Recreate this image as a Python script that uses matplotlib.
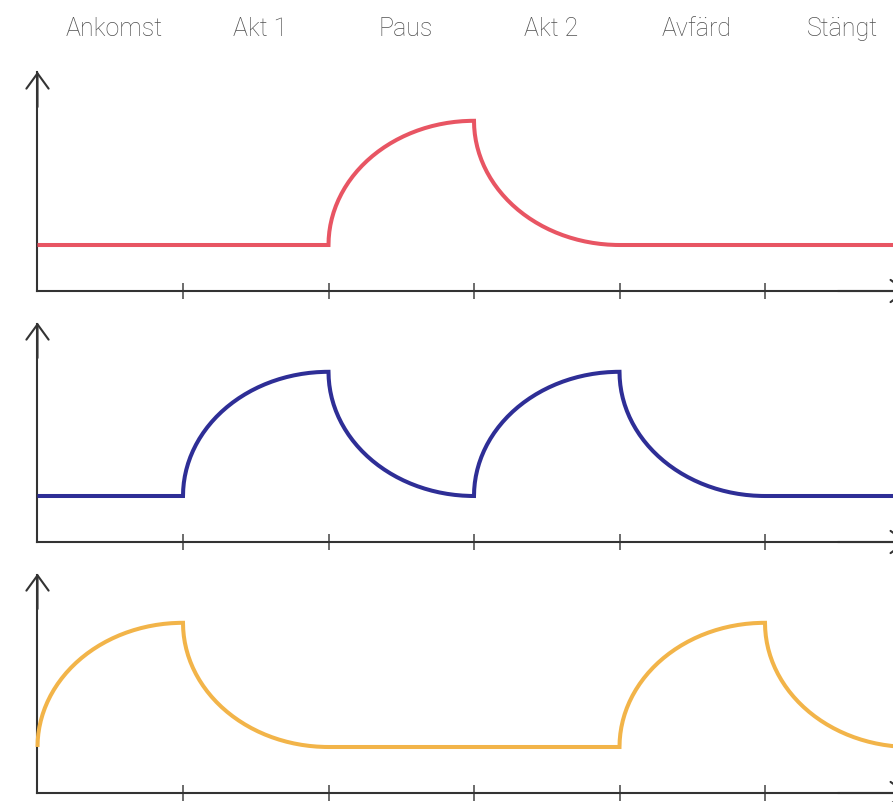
import numpy as np
import matplotlib.pyplot as plt

# phases along the x axis
phases = ['Ankomst', 'Akt 1', 'Paus', 'Akt 2', 'Avfärd', 'Stängt']

# level at each phase boundary (0 = low, 1 = high)
red_levels = [0, 0, 0, 1, 0, 0, 0]
blue_levels = [0, 0, 1, 0, 1, 0, 0]
yellow_levels = [0, 1, 0, 0, 0, 1, 0]

colors = ['#E85563', '#2E2E96', '#F2B449']
low, high = 1.0, 3.7   # y values of the two levels


def build_curve(levels):
    xs, ys = [], []
    t = np.linspace(0, np.pi / 2, 60)
    for i in range(len(levels) - 1):
        a, b = levels[i], levels[i + 1]
        ya = low + (high - low) * a
        yb = low + (high - low) * b
        if a == b:
            sx = np.array([i, i + 1.0])
            sy = np.array([ya, yb])
        else:
            # quarter ellipse: vertical at start, flat at the end
            sx = i + (1 - np.cos(t))
            sy = ya + (yb - ya) * np.sin(t)
        xs.extend(sx)
        ys.extend(sy)
    return xs, ys


fig = plt.figure(figsize=(8.93, 8.02), dpi=100)
W, H = 893, 802
x0_px, unit_px = 37.5, 145.5
y_unit = 46.0
xlim = (-x0_px / unit_px, (W - x0_px) / unit_px)
ylim = (-0.2, 4.9)

axis_px = [291, 542, 793]
all_levels = [red_levels, blue_levels, yellow_levels]

for k in range(3):
    bottom_px = axis_px[k] - ylim[0] * y_unit
    height_px = (ylim[1] - ylim[0]) * y_unit
    ax = fig.add_axes([0, (H - bottom_px) / H, 1, height_px / H])
    ax.patch.set_alpha(0)

    xs, ys = build_curve(all_levels[k])
    ax.plot(xs, ys, color=colors[k], lw=2.9, solid_capstyle='butt',
            solid_joinstyle='miter', clip_on=False, zorder=3)

    for s in ['top', 'right']:
        ax.spines[s].set_visible(False)
    ax.spines['left'].set_position(('data', 0))
    ax.spines['bottom'].set_position(('data', 0))
    ax.spines['left'].set_bounds(0, 4.75)
    ax.spines['bottom'].set_bounds(0, 5.98)
    for s in ['left', 'bottom']:
        ax.spines[s].set_color('#333333')
        ax.spines[s].set_linewidth(1.5)
    ax.set_xticks(range(1, 7))
    ax.set_xticklabels([])
    ax.set_yticks([])
    ax.tick_params(axis='x', direction='inout', length=11.5, width=1.1,
                   color='#444444')
    ax.set_xlim(*xlim)
    ax.set_ylim(*ylim)

    # open arrowheads on both axes
    ax.annotate('', xy=(0, 4.77), xytext=(0, 4.0),
                arrowprops=dict(arrowstyle='->,head_length=1.1,head_width=0.8',
                                color='#333333', lw=1.5, shrinkA=0, shrinkB=0))
    ax.annotate('', xy=(5.98, 0), xytext=(5.5, 0), annotation_clip=False,
                arrowprops=dict(arrowstyle='->,head_length=1.1,head_width=0.8',
                                color='#333333', lw=1.5, shrinkA=0, shrinkB=0))

    if k == 0:
        for i, name in enumerate(phases):
            ax.text(i + 0.53, 5.69, name, ha='center', va='center',
                    fontsize=18, color='#505050', family='Roboto',
                    fontweight='light', clip_on=False)

fig.savefig('out.png', dpi=100)
